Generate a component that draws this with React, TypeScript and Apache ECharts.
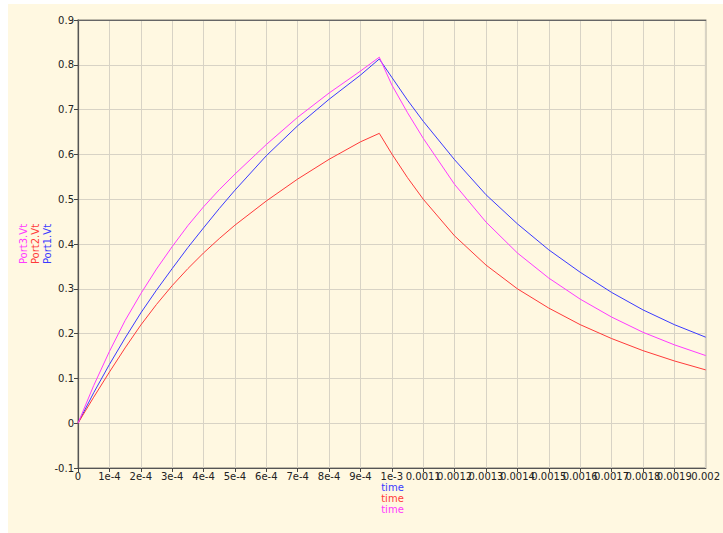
import React, { useEffect, useRef } from "react";
import * as echarts from "echarts";

// time points in units of 1e-4 s
const timeSteps = [0, 0.5, 1, 1.5, 2, 2.5, 3, 3.5, 4, 4.5, 5, 6, 7, 8, 9, 9.6, 10, 10.5, 11, 12, 13, 14, 15, 16, 17, 18, 19, 20];
const port1Vt = [0, 0.068, 0.131, 0.19, 0.246, 0.297, 0.345, 0.392, 0.436, 0.479, 0.52, 0.597, 0.664, 0.723, 0.777, 0.813, 0.772, 0.721, 0.674, 0.588, 0.51, 0.445, 0.387, 0.337, 0.292, 0.253, 0.22, 0.192];
const port2Vt = [0, 0.058, 0.114, 0.168, 0.219, 0.265, 0.307, 0.345, 0.38, 0.412, 0.442, 0.496, 0.545, 0.589, 0.628, 0.647, 0.601, 0.548, 0.5, 0.418, 0.353, 0.3, 0.257, 0.22, 0.189, 0.162, 0.139, 0.119];
const port3Vt = [0, 0.084, 0.16, 0.229, 0.289, 0.344, 0.394, 0.441, 0.483, 0.521, 0.556, 0.622, 0.683, 0.737, 0.786, 0.817, 0.755, 0.693, 0.636, 0.533, 0.449, 0.38, 0.324, 0.277, 0.237, 0.203, 0.175, 0.151];

const xTickLabels = ["0", "1e-4", "2e-4", "3e-4", "4e-4", "5e-4", "6e-4", "7e-4", "8e-4", "9e-4", "1e-3", "0.0011", "0.0012", "0.0013", "0.0014", "0.0015", "0.0016", "0.0017", "0.0018", "0.0019", "0.002"];
const seriesNames = ["Port1.Vt", "Port2.Vt", "Port3.Vt"];
const xNames = ["time", "time", "time"];

const COLORS = ["#3a3aff", "#ff3a3a", "#ff3aff"];
const FONT = "DejaVu Sans";

export default function App() {
  const ref = useRef<HTMLDivElement>(null);
  useEffect(() => {
    if (!ref.current) return;
    const chart = echarts.init(ref.current, undefined, { renderer: "svg" });
    const mk = (vals: number[]) => timeSteps.map((t, i) => [t * 1e-4, vals[i]]);
    const allVals = [port1Vt, port2Vt, port3Vt];
    const plotLeft = 70, plotRight = 707 - 8, plotTop = 16, plotBottom = 464;
    const midY = (plotTop + plotBottom) / 2;
    const midX = (plotLeft + plotRight) / 2;
    const xMax = 0.002;
    const legendGraphics = seriesNames.map((n, i) => ({
      type: "text",
      x: 39 - i * 12,
      y: midY,
      rotation: Math.PI / 2,
      style: { text: n, fill: COLORS[i], font: `10px "${FONT}"`, textAlign: "center", textVerticalAlign: "middle" },
    }));
    const timeGraphics = xNames.map((n, i) => ({
      type: "text",
      x: midX,
      y: 483.5 + i * 11.2,
      style: { text: n, fill: COLORS[i], font: `10px "${FONT}"`, textAlign: "center", textVerticalAlign: "middle" },
    }));
    const labelStyle = { fontFamily: FONT, fontSize: 10, color: "#222", margin: 3 };
    chart.setOption({
      animation: false,
      backgroundColor: "#fff8e1",
      grid: { left: 70, right: 15, top: 16, bottom: 65, show: true, borderColor: "#aaa598", borderWidth: 1.5, backgroundColor: "transparent" },
      xAxis: [
        {
          type: "value",
          min: 0,
          max: xMax,
          interval: 0.0001,
          axisLine: { show: true, onZero: false, lineStyle: { color: "#555", width: 1.2 } },
          axisTick: { show: true, length: 4, lineStyle: { color: "#444" } },
          axisLabel: {
            ...labelStyle,
            showMaxLabel: false,
            showMinLabel: true,
            formatter: (v: number) => xTickLabels[Math.round(v / 0.0001)] ?? "",
          },
          splitLine: { show: true, lineStyle: { color: "#d8d3c5", width: 1 } },
        },
        {
          type: "value",
          position: "top",
          min: 0,
          max: xMax,
          axisLine: { show: true, onZero: false, lineStyle: { color: "#666", width: 1.2 } },
          axisTick: { show: false },
          axisLabel: { show: false },
          splitLine: { show: false },
        },
        {
          type: "value",
          position: "bottom",
          min: 0,
          max: xMax,
          interval: xMax,
          axisLine: { show: false, onZero: false },
          axisTick: { show: false },
          axisLabel: {
            ...labelStyle,
            showMinLabel: false,
            showMaxLabel: true,
            formatter: (v: number) => (v >= xMax - 1e-9 ? xTickLabels[xTickLabels.length - 1] : ""),
          },
          splitLine: { show: false },
        },
      ],
      yAxis: {
        type: "value",
        min: -0.1,
        max: 0.9,
        interval: 0.1,
        axisLine: { show: true, onZero: false, lineStyle: { color: "#555", width: 1.2 } },
        axisTick: { show: true, length: 4, lineStyle: { color: "#444" } },
        axisLabel: { fontFamily: FONT, fontSize: 10, color: "#222", margin: 4 },
        splitLine: { show: true, lineStyle: { color: "#d8d3c5", width: 1 } },
      },
      graphic: [...legendGraphics, ...timeGraphics],
      series: allVals.map((vals, i) => ({
        name: seriesNames[i],
        type: "line",
        data: mk(vals),
        showSymbol: false,
        symbol: "none",
        lineStyle: { color: COLORS[i], width: 1 },
        itemStyle: { color: COLORS[i] },
        z: 3 + i,
      })),
    });
    return () => chart.dispose();
  }, []);
  return (
    <div
      ref={ref}
      style={{ position: "absolute", left: 8, top: 4, width: 715, height: 529 }}
    />
  );
}
